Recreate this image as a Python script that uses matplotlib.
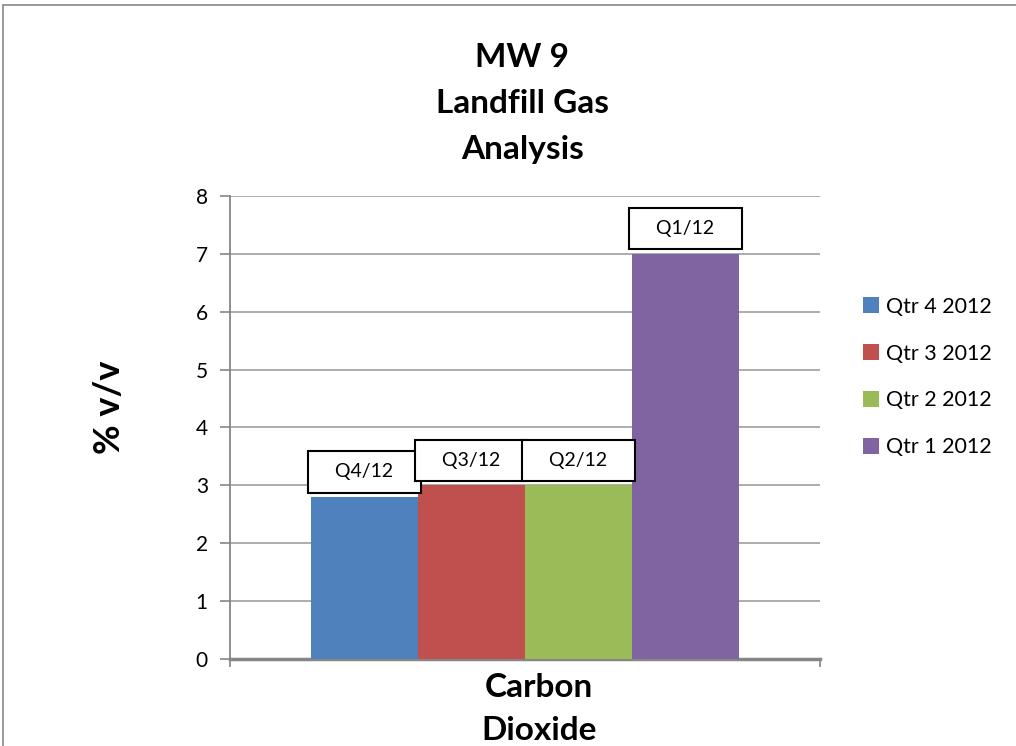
import numpy as np
import matplotlib
matplotlib.use('Agg')
import matplotlib.pyplot as plt
from matplotlib.patches import Patch, Rectangle

plt.rcParams['font.family'] = ['Lato', 'DejaVu Sans']

# data
series = ['Qtr 4 2012', 'Qtr 3 2012', 'Qtr 2 2012', 'Qtr 1 2012']
values = [2.8, 3.0, 3.0, 7.0]
bar_labels = ['Q4/12', 'Q3/12', 'Q2/12', 'Q1/12']
colors = ['#4F81BD', '#C0504D', '#9BBB59', '#8064A2']
category = 'Carbon\nDioxide'

fig = plt.figure(figsize=(10.16, 7.46), dpi=100)
ax = fig.add_axes([0.2264, 0.1166, 0.5807, 0.6207])

# outer chart border
fig.patches.append(Rectangle((0.003, -0.01), 1.1, 1.003, transform=fig.transFigure,
                             fill=False, edgecolor='#868686', linewidth=1.2))

w = 0.1814
xs = (np.arange(len(values)) - 1.5) * w
bars = ax.bar(xs, values, width=w, color=colors, edgecolor='none', zorder=3)

for x, v, lab in zip(xs, values, bar_labels):
    ax.annotate('   ' + lab + '   ', xy=(x, v), xytext=(0, 25), textcoords='offset pixels',
                ha='center', va='center', fontsize=14, zorder=5,
                bbox=dict(boxstyle='square,pad=0.62', fc='white', ec='black', lw=1.5))

ax.set_xlim(-0.5, 0.5)
ax.set_ylim(0, 8)
ax.set_yticks(range(0, 9))
ax.tick_params(axis='y', labelsize=15, length=7, color='#868686', width=1.2, pad=9)
ax.yaxis.grid(True, color='#a6a6a6', linewidth=1.3, zorder=0)
ax.set_axisbelow(True)

ax.set_xticks([-0.5, 0.5], ['', ''])
ax.tick_params(axis='x', length=6, color='#868686', width=1.2)
ax.text(0.524, -0.03, category, transform=ax.transAxes, ha='center', va='top',
        fontsize=24, fontweight='bold', linespacing=1.6)

for s in ['top', 'right']:
    ax.spines[s].set_visible(False)
ax.spines['left'].set_color('#868686')
ax.spines['left'].set_linewidth(1.3)
ax.spines['bottom'].set_color('#868686')
ax.spines['bottom'].set_linewidth(2.5)

fig.text(0.108, 1 - 407 / 746, '% v/v', rotation=90, ha='center', va='center',
         fontsize=26, fontweight='bold')

fig.text(0.514, 0.861, 'MW 9\nLandfill Gas\nAnalysis', ha='center', va='center',
         fontsize=24, fontweight='bold', linespacing=1.72)

handles = [Patch(facecolor=c, edgecolor='none') for c in colors]
fig.legend(handles, series, loc='center left', bbox_to_anchor=(0.83, 0.4946),
           frameon=False, fontsize=15.5, labelspacing=1.25, handlelength=0.75,
           handleheight=0.75, handletextpad=0.35)

fig.savefig('out.png', dpi=100)
